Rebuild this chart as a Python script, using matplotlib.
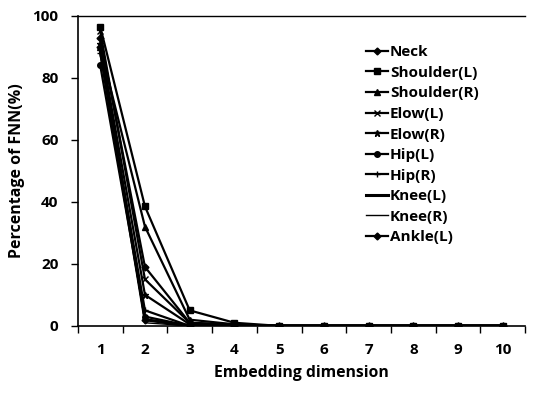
import numpy as np
import matplotlib.pyplot as plt
from matplotlib.ticker import FixedLocator, NullFormatter

plt.rcParams['font.family'] = ['Open Sans', 'DejaVu Sans']
plt.rcParams['font.weight'] = 'bold'

dims = np.arange(1, 11)
neck = [93, 19, 1, 0.5, 0, 0, 0, 0, 0, 0]
shoulder_l = [96.5, 38.5, 5, 1, 0, 0, 0, 0, 0, 0]
shoulder_r = [90, 32, 2, 0.5, 0, 0, 0, 0, 0, 0]
elow_l = [95, 15, 1, 0, 0, 0, 0, 0, 0, 0]
elow_r = [91, 10, 0.5, 0, 0, 0, 0, 0, 0, 0]
hip_l = [84, 3, 0, 0, 0, 0, 0, 0, 0, 0]
hip_r = [88, 5, 0, 0, 0, 0, 0, 0, 0, 0]
knee_l = [89, 2, 0, 0, 0, 0, 0, 0, 0, 0]
knee_r = [92, 1, 0, 0, 0, 0, 0, 0, 0, 0]
ankle_l = [90, 2, 0, 0, 0, 0, 0, 0, 0, 0]

series = [
    ('Neck', neck, 'D', 3.5, 1.6),
    ('Shoulder(L)', shoulder_l, 's', 4.5, 1.6),
    ('Shoulder(R)', shoulder_r, '^', 4, 1.6),
    ('Elow(L)', elow_l, 'x', 4, 1.6),
    ('Elow(R)', elow_r, '*', 5, 1.6),
    ('Hip(L)', hip_l, 'o', 4, 1.6),
    ('Hip(R)', hip_r, '+', 5, 1.6),
    ('Knee(L)', knee_l, None, 0, 2.2),
    ('Knee(R)', knee_r, None, 0, 1.0),
    ('Ankle(L)', ankle_l, 'D', 3.5, 1.6),
]

fig = plt.figure(figsize=(5.37, 3.95), dpi=100)
ax = fig.add_axes([0.145, 0.175, 0.833, 0.785])

for name, vals, m, ms, lw in series:
    ax.plot(dims, vals, color='black', marker=m, markersize=ms, linewidth=lw, label=name)

ax.set_xlim(0.5, 10.5)
ax.set_ylim(0, 100)
ax.set_yticks([0, 20, 40, 60, 80, 100])
ax.xaxis.set_major_locator(FixedLocator(np.arange(0.5, 11, 1)))
ax.xaxis.set_major_formatter(NullFormatter())
ax.xaxis.set_minor_locator(FixedLocator(dims))
ax.set_xticklabels([str(d) for d in dims], minor=True)
ax.tick_params(axis='x', which='minor', length=0, pad=12, labelsize=11)
ax.tick_params(axis='x', which='major', direction='out', length=5, width=1)
ax.tick_params(axis='y', direction='out', length=5, width=1, labelsize=11, pad=9)
for lab in ax.get_xticklabels(minor=True) + ax.get_yticklabels():
    lab.set_fontweight('bold')

ax.spines['right'].set_visible(False)
ax.spines['top'].set_linewidth(1)
ax.spines['left'].set_linewidth(1.2)
ax.spines['bottom'].set_linewidth(1.2)

ax.set_xlabel('Embedding dimension', fontsize=11.3, fontweight='bold', labelpad=6)
ax.set_ylabel('Percentage of FNN(%)', fontsize=11.5, fontweight='bold', labelpad=5)

leg = ax.legend(loc='upper left', bbox_to_anchor=(0.645, 0.905), frameon=False,
                handlelength=1.4, handletextpad=0.15, labelspacing=0.43,
                prop={'weight': 'bold', 'size': 11}, borderaxespad=0, borderpad=0)

fig.savefig('out.png', dpi=100)
